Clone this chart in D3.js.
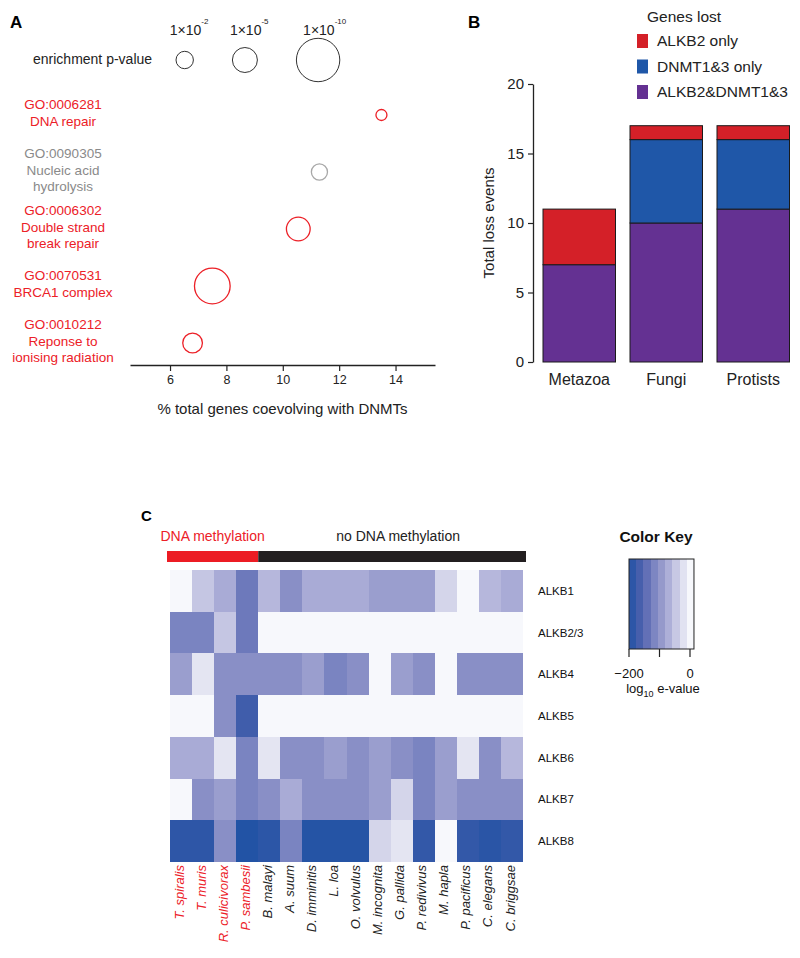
<!DOCTYPE html>
<html><head><meta charset="utf-8">
<script src="https://cdn.jsdelivr.net/npm/d3@7"></script>
<style>
html,body{margin:0;padding:0;background:#fff}
svg{display:block}
text{font-family:"Liberation Sans",Arial,Helvetica,sans-serif}
</style>
</head><body>
<svg id="chart" width="800" height="958"></svg>
<script>
// ================= DATA =================
// Panel A: GO enrichment
const goIds = ["GO:0006281", "GO:0090305", "GO:0006302", "GO:0070531", "GO:0010212"];
const goNames = [["DNA repair"], ["Nucleic acid", "hydrolysis"], ["Double strand", "break repair"], ["BRCA1 complex"], ["Reponse to", "ionising radiation"]];
const goPercent = [13.5, 11.3, 10.55, 7.5, 6.8];        // % total genes coevolving with DNMTs
const goNegLog10P = [1.0, 1.8, 4.5, 7.9, 2.9];          // -log10 enrichment p-value
const goSignificant = [true, false, true, true, true];
const pLegendExp = [2, 5, 10];                          // 1x10^-2, 1x10^-5, 1x10^-10
const pctTicks = [6, 8, 10, 12, 14];

// Panel B: gene loss events
const clades = ["Metazoa", "Fungi", "Protists"];
const lossBoth = [7, 10, 11];       // ALKB2&DNMT1&3
const lossDnmtOnly = [0, 6, 5];     // DNMT1&3 only
const lossAlkb2Only = [4, 1, 1];    // ALKB2 only
const lossLegend = ["ALKB2 only", "DNMT1&3 only", "ALKB2&DNMT1&3"];
const lossTicks = [0, 5, 10, 15, 20];

// Panel C: heatmap of log10 e-values
const species = ["T. spiralis", "T. muris", "R. culicivorax", "P. sambesii", "B. malayi", "A. suum", "D. imminitis", "L. loa", "O. volvulus", "M. incognita", "G. pallida", "P. redivivus", "M. hapla", "P. pacificus", "C. elegans", "C. briggsae"];
const methylated = [true, true, true, true, false, false, false, false, false, false, false, false, false, false, false, false];
const genes = ["ALKB1", "ALKB2/3", "ALKB4", "ALKB5", "ALKB6", "ALKB7", "ALKB8"];
const alkb1 =  [0, -48, -73, -132, -62, -105, -73, -73, -73, -88, -88, -88, -35, 0, -62, -73];
const alkb23 = [-120, -120, -48, -132, 0, 0, 0, 0, 0, 0, 0, 0, 0, 0, 0, 0];
const alkb4 =  [-88, -20, -105, -105, -105, -105, -88, -120, -105, 0, -88, -105, 0, -105, -105, -105];
const alkb5 =  [0, 0, -105, -170, 0, 0, 0, 0, 0, 0, 0, 0, 0, 0, 0, 0];
const alkb6 =  [-73, -73, -20, -120, -20, -105, -105, -88, -105, -88, -105, -120, -88, -20, -105, -62];
const alkb7 =  [0, -105, -88, -120, -105, -73, -105, -105, -105, -88, -35, -120, -88, -105, -105, -105];
const alkb8 =  [-188, -188, -105, -200, -190, -120, -197, -197, -197, -35, -20, -182, 0, -182, -192, -182];
const keyTicks = [-200, -100, 0];
const keyTickLabels = ["\u2212200", "", "0"];

// ================= STYLE =================
const RED = "#ec2027", GREY_TXT = "#8a8a8a", GREY_CIRC = "#a8a8a8";
const colorStops = [-200, -175, -150, -125, -100, -75, -50, -25, 0];
const colorRange = ["#2253a5", "#3a5aa9", "#5867b1", "#7580bf", "#8e93c8", "#a7a9d5", "#c3c4e2", "#dfe0f0", "#f7f8fc"];

const svg = d3.select("#chart");

// ================= PANEL A =================
const gA = svg.append("g");
gA.append("text").attr("x", 10).attr("y", 28).attr("font-size", 17).attr("font-weight", "bold").text("A");

const xA = d3.scaleLinear().domain([4.58, 15.4]).range([130, 435]);
const yA = d3.scalePoint().domain(goIds).range([115, 343]);
const rA = d3.scaleLinear().domain([1, 2, 5, 10]).range([5.5, 8.7, 12.5, 21.7]);

// legend
gA.append("text").attr("x", 33).attr("y", 64).attr("font-size", 14).attr("fill", "#222").text("enrichment p-value");
let lx = 176;
pLegendExp.forEach(e => {
  const r = rA(e);
  const cx = lx + r;
  gA.append("circle").attr("cx", cx).attr("cy", 60).attr("r", r)
    .attr("fill", "none").attr("stroke", "#333").attr("stroke-width", 1);
  const t = gA.append("text").attr("x", cx - 15).attr("y", 35).attr("font-size", 14).attr("fill", "#222");
  t.append("tspan").text("1\u00d710");
  t.append("tspan").attr("dy", -11).attr("font-size", 8).text("-" + e);
  lx = cx + r + 39;
});

// axis
const axA = gA.append("g").attr("transform", "translate(0,365)")
  .call(d3.axisBottom(xA).tickValues(pctTicks).tickSize(6).tickSizeOuter(0).tickPadding(4));
axA.select(".domain").attr("stroke", "#222").attr("stroke-width", 1.3);
axA.selectAll(".tick line").attr("stroke", "#222").attr("stroke-width", 1.2);
axA.selectAll(".tick text").attr("font-size", 12.5).attr("fill", "#222")
  .style("font-family", "'Liberation Sans',Arial,sans-serif");
gA.append("text").attr("x", (xA.range()[0] + xA.range()[1]) / 2).attr("y", 414)
  .attr("text-anchor", "middle").attr("font-size", 15).attr("fill", "#222")
  .text("% total genes coevolving with DNMTs");

// circles + labels
goIds.forEach((id, i) => {
  const col = goSignificant[i] ? RED : GREY_TXT;
  gA.append("circle").attr("cx", xA(goPercent[i])).attr("cy", yA(id)).attr("r", rA(goNegLog10P[i]))
    .attr("fill", "none").attr("stroke", goSignificant[i] ? RED : GREY_CIRC).attr("stroke-width", 1.3);
  const lines = [id].concat(goNames[i]);
  const lh = 16.5;
  const c = yA(id) - 2;
  lines.forEach((ln, k) => {
    gA.append("text").attr("x", 63).attr("y", c - (lines.length - 1) * lh / 2 + k * lh)
      .attr("dy", "0.35em").attr("text-anchor", "middle").attr("font-size", 13.5)
      .attr("fill", col).text(ln);
  });
});

// ================= PANEL B =================
const gB = svg.append("g");
gB.append("text").attr("x", 468).attr("y", 28).attr("font-size", 17).attr("font-weight", "bold").text("B");

const xB = d3.scaleBand().domain(clades).range([543, 789.5]).paddingInner(1 / 6).paddingOuter(0);
const yB = d3.scaleLinear().domain([0, 20]).range([362, 84]);
const tableB = clades.map((c, i) => ({ clade: c, both: lossBoth[i], dnmt: lossDnmtOnly[i], alkb2: lossAlkb2Only[i] }));
const keysB = ["both", "dnmt", "alkb2"];
const colB = { both: "#643192", dnmt: "#1f57a8", alkb2: "#d42028" };
const stacked = d3.stack().keys(keysB)(tableB);
stacked.forEach(layer => {
  gB.append("g").selectAll("rect").data(layer.filter(d => d[1] > d[0])).join("rect")
    .attr("x", d => xB(d.data.clade)).attr("width", xB.bandwidth())
    .attr("y", d => yB(d[1])).attr("height", d => yB(d[0]) - yB(d[1]))
    .attr("fill", colB[layer.key]).attr("stroke", "#1a1a1a").attr("stroke-width", 1);
});
const axB = gB.append("g").attr("transform", "translate(533,0)")
  .call(d3.axisLeft(yB).tickValues(lossTicks).tickSize(5).tickSizeOuter(0).tickPadding(4));
axB.select(".domain").attr("stroke", "#222").attr("stroke-width", 1.3);
axB.selectAll(".tick line").attr("stroke", "#222").attr("stroke-width", 1.2);
axB.selectAll(".tick text").attr("font-size", 15).attr("fill", "#222")
  .style("font-family", "'Liberation Sans',Arial,sans-serif");
gB.append("text").attr("transform", "translate(494,223) rotate(-90)")
  .attr("text-anchor", "middle").attr("font-size", 15).attr("fill", "#222").text("Total loss events");
clades.forEach(c => {
  gB.append("text").attr("x", xB(c) + xB.bandwidth() / 2).attr("y", 385)
    .attr("text-anchor", "middle").attr("font-size", 16).attr("fill", "#222").text(c);
});
// legend
gB.append("text").attr("x", 647).attr("y", 22).attr("font-size", 15.5).attr("fill", "#222").text("Genes lost");
const legKeys = ["alkb2", "dnmt", "both"];
lossLegend.forEach((lab, i) => {
  const y0 = 34 + i * 25.5;
  gB.append("rect").attr("x", 637).attr("y", y0).attr("width", 11).attr("height", 14).attr("fill", colB[legKeys[i]]);
  gB.append("text").attr("x", 657).attr("y", y0 + 7).attr("dy", "0.35em").attr("font-size", 15.5).attr("fill", "#222").text(lab);
});

// ================= PANEL C =================
const gC = svg.append("g");
gC.append("text").attr("x", 141).attr("y", 521).attr("font-size", 15).attr("font-weight", "bold").text("C");

const xC = d3.scaleBand().domain(species).range([170, 523]);
const yC = d3.scaleBand().domain(genes).range([570, 862]);
const color = d3.scaleLinear().domain(colorStops).range(colorRange).clamp(true);
const matrix = [alkb1, alkb23, alkb4, alkb5, alkb6, alkb7, alkb8];

// methylation header bar
const nMeth = methylated.filter(d => d).length;
const splitX = xC(species[nMeth]);
gC.append("rect").attr("x", 167).attr("y", 551).attr("width", splitX - 167).attr("height", 11).attr("fill", "#ec1c24");
gC.append("rect").attr("x", splitX).attr("y", 551).attr("width", 526 - splitX).attr("height", 11).attr("fill", "#231f20");
gC.append("text").attr("x", (167 + splitX) / 2).attr("y", 541).attr("text-anchor", "middle")
  .attr("font-size", 14).attr("fill", RED).text("DNA methylation");
gC.append("text").attr("x", (splitX + 526) / 2 + 6).attr("y", 541).attr("text-anchor", "middle")
  .attr("font-size", 14).attr("fill", "#222").text("no DNA methylation");

// cells
matrix.forEach((row, i) => {
  gC.append("g").selectAll("rect").data(row).join("rect")
    .attr("x", (d, j) => xC(species[j])).attr("y", yC(genes[i]))
    .attr("width", xC.bandwidth() + 0.3).attr("height", yC.bandwidth() + 0.3)
    .attr("fill", d => color(d)).attr("shape-rendering", "crispEdges");
});
// row labels
genes.forEach(g => {
  gC.append("text").attr("x", 538).attr("y", yC(g) + yC.bandwidth() / 2).attr("dy", "0.35em")
    .attr("font-size", 11.5).attr("fill", "#111").text(g);
});
// species labels
species.forEach((s, j) => {
  gC.append("text").attr("transform", `translate(${xC(s) + xC.bandwidth() / 2 - 2},865) rotate(-90)`)
    .attr("text-anchor", "end").attr("dy", "0.35em").attr("font-size", 13).attr("font-style", "italic")
    .attr("fill", methylated[j] ? RED : "#222").text(s);
});

// color key
const keyX = d3.scaleLinear().domain([-200, 0]).range([629, 690]);
const keyMin = -200, keyMax = 13, nBands = 9;
const bandStep = (keyMax - keyMin) / nBands;
const bands = d3.range(nBands).map(b => keyMin + b * bandStep);
gC.append("text").attr("x", 656).attr("y", 542).attr("text-anchor", "middle")
  .attr("font-size", 15.5).attr("font-weight", "bold").attr("fill", "#111").text("Color Key");
gC.append("g").selectAll("rect").data(bands).join("rect")
  .attr("x", d => keyX(d)).attr("y", 559).attr("width", d => keyX(d + bandStep) - keyX(d) + 0.3).attr("height", 90)
  .attr("fill", d => color(d + bandStep / 2)).attr("shape-rendering", "crispEdges");
gC.append("rect").attr("x", keyX(keyMin)).attr("y", 559).attr("width", keyX(keyMax) - keyX(keyMin)).attr("height", 90)
  .attr("fill", "none").attr("stroke", "#222").attr("stroke-width", 1);
keyTicks.forEach((t, i) => {
  gC.append("line").attr("x1", keyX(t)).attr("x2", keyX(t)).attr("y1", 649).attr("y2", 657)
    .attr("stroke", "#222").attr("stroke-width", 1.2);
  if (keyTickLabels[i]) gC.append("text").attr("x", keyX(t)).attr("y", 678).attr("text-anchor", "middle")
    .attr("font-size", 13).attr("fill", "#111").text(keyTickLabels[i]);
});
const kl = gC.append("text").attr("x", 663).attr("y", 693).attr("text-anchor", "middle").attr("font-size", 13).attr("fill", "#111");
kl.append("tspan").text("log");
kl.append("tspan").attr("dy", 4).attr("font-size", 9).text("10");
kl.append("tspan").attr("dy", -4).text(" e-value");
</script>
</body></html>
